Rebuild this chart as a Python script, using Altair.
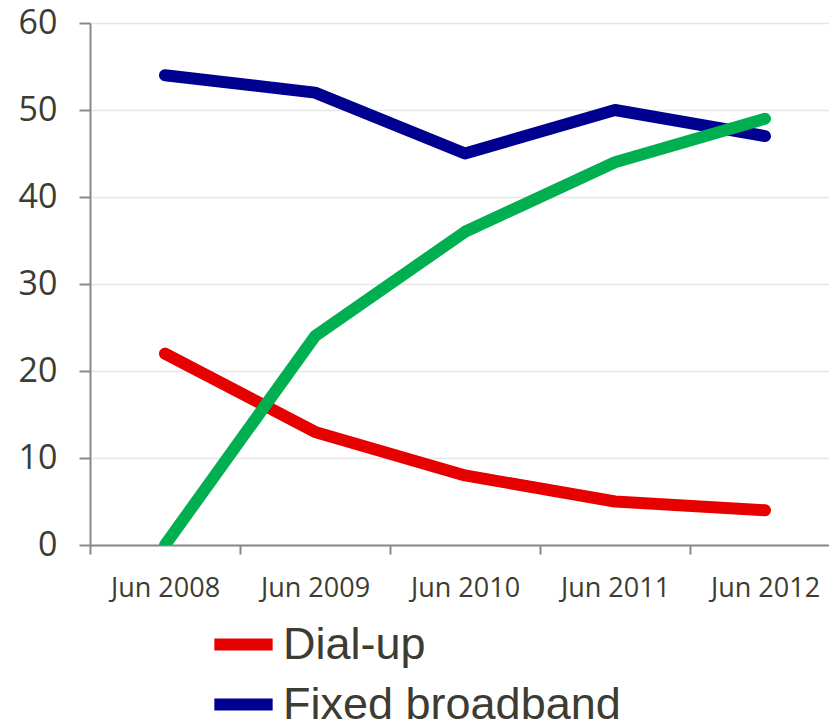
import altair as alt
import pandas as pd

years = ["Jun 2008", "Jun 2009", "Jun 2010", "Jun 2011", "Jun 2012"]
series_names = ["Dial-up", "Fixed broadband", "Mobile broadband"]
dialup = [22, 13, 8, 5, 4]
fixed = [54, 52, 45, 50, 47]
mobile = [0, 24, 36, 44, 49]
colors = ["#e60000", "#000090", "#00b050"]

rows = []
for name, vals in zip(series_names, [dialup, fixed, mobile]):
    for y, v in zip(years, vals):
        rows.append({"year": y, "series": name, "value": v})
df = pd.DataFrame(rows)

text_color = "#3c3c32"
axis_color = "#888888"

chart = alt.Chart(df).mark_line(strokeWidth=12, strokeCap="round", strokeJoin="round", clip=True).encode(
    x=alt.X("year:N", sort=years, bandPosition=0.5,
            scale=alt.Scale(type="band", paddingInner=0, paddingOuter=0, range=[0, 750]),
            axis=alt.Axis(title=None, tickBand="extent", grid=False, labelAngle=0,
                          labelFont="Open Sans", labelFontSize=27, labelColor=text_color,
                          labelPadding=21, tickSize=9, tickColor=axis_color, tickWidth=2,
                          domainColor=axis_color, domainWidth=2)),
    y=alt.Y("value:Q", scale=alt.Scale(domain=[0, 60], nice=False),
            axis=alt.Axis(title=None, values=[0, 10, 20, 30, 40, 50, 60], grid=True,
                          gridColor="#e6e6e6", gridWidth=1.5,
                          labelFont="Open Sans", labelFontSize=34, labelColor=text_color,
                          labelPadding=22, tickSize=11, tickColor=axis_color, tickWidth=2,
                          domainColor=axis_color, domainWidth=2)),
    color=alt.Color("series:N", title=None,
                    scale=alt.Scale(domain=series_names, range=colors),
                    legend=alt.Legend(orient="none", legendX=118, legendY=586, direction="vertical",
                                      symbolType="stroke", symbolSize=3400, symbolStrokeWidth=12,
                                      labelFont="Liberation Sans, Arial, sans-serif",
                                      labelFontSize=45, labelColor=text_color, labelOffset=4,
                                      rowPadding=0, labelLimit=0)),
    order=alt.Order("series:N"),
).properties(
    width=739, height=522,
    autosize=alt.AutoSizeParams(type="none"),
    padding={"left": 82, "top": 15, "right": 0, "bottom": 175},
).configure_view(stroke=None)

chart.save("out.html", embed_options={"renderer": "svg", "actions": False})
